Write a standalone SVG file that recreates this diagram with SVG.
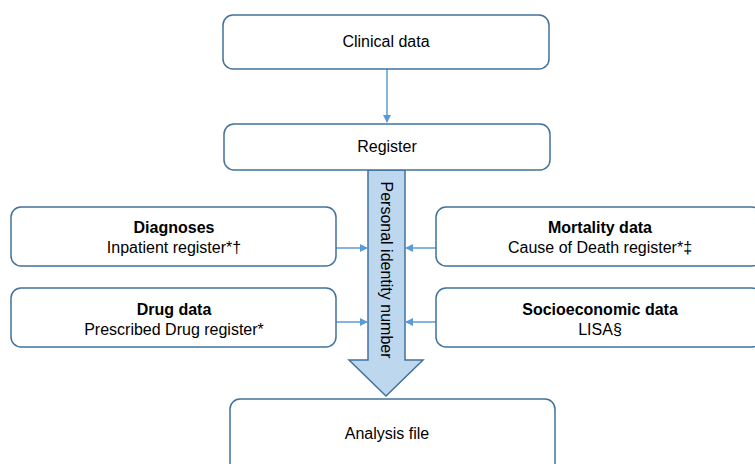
<svg xmlns="http://www.w3.org/2000/svg" width="755" height="464" viewBox="0 0 755 464">
<defs>
<style>
.box{fill:#ffffff;stroke:#41719C;stroke-width:1.5}
.t{font-family:"Liberation Sans",Arial,sans-serif;font-size:16px;fill:#000;text-anchor:middle}
.b{font-weight:bold}
.c{stroke:#5B9BD5;stroke-width:1.5;fill:none}
</style>
<marker id="ah" markerWidth="8" markerHeight="8" refX="7" refY="4" orient="auto" markerUnits="userSpaceOnUse">
<path d="M0,0 L8,4 L0,8 Z" fill="#5B9BD5"/>
</marker>
</defs>
<rect width="755" height="464" fill="#ffffff"/>
<g id="big-arrow">
<path d="M368,170 L405,170 L405,360 L423,360 L386,396 L349,360 L368,360 Z" fill="#BDD7EE" stroke="#41719C" stroke-width="1.5"/>
<text class="t" transform="translate(381,270) rotate(90)">Personal identity number</text>
</g>
<g id="connectors">
<line class="c" x1="387" y1="69" x2="387" y2="122" marker-end="url(#ah)"/>
<line class="c" x1="336" y1="248" x2="367" y2="248" marker-end="url(#ah)"/>
<line class="c" x1="336" y1="322" x2="367" y2="322" marker-end="url(#ah)"/>
<line class="c" x1="436" y1="248" x2="406" y2="248" marker-end="url(#ah)"/>
<line class="c" x1="436" y1="322" x2="406" y2="322" marker-end="url(#ah)"/>
</g>
<g id="clinical">
<rect class="box" x="223" y="15" width="326" height="54" rx="10"/>
<text class="t" x="386" y="47">Clinical data</text>
</g>
<g id="register">
<rect class="box" x="224" y="124" width="326" height="46" rx="10"/>
<text class="t" x="387" y="152">Register</text>
</g>
<g id="diagnoses">
<rect class="box" x="11" y="207" width="325" height="59" rx="10"/>
<text class="t b" x="174" y="233">Diagnoses</text>
<text class="t" x="174" y="253">Inpatient register*†</text>
</g>
<g id="drug">
<rect class="box" x="11" y="288" width="325" height="59" rx="10"/>
<text class="t b" x="174" y="315">Drug data</text>
<text class="t" x="174" y="335">Prescribed Drug register*</text>
</g>
<g id="mortality">
<rect class="box" x="436" y="207" width="326" height="59" rx="10"/>
<text class="t b" x="600" y="233">Mortality data</text>
<text class="t" x="600" y="253">Cause of Death register*‡</text>
</g>
<g id="socio">
<rect class="box" x="436" y="288" width="326" height="59" rx="10"/>
<text class="t b" x="600" y="315">Socioeconomic data</text>
<text class="t" x="600" y="335">LISA§</text>
</g>
<g id="analysis">
<rect class="box" x="230" y="399" width="325" height="75" rx="10"/>
<text class="t" x="387" y="439">Analysis file</text>
</g>
</svg>
